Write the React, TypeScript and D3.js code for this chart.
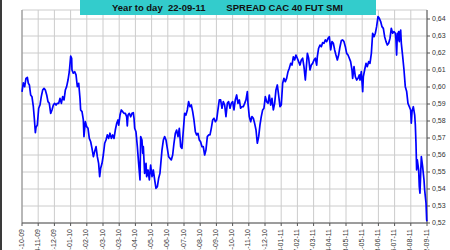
import React from 'react';
import * as d3 from 'd3';

const tickLabels = [
  '07-10-09', '04-11-09', '02-12-09', '05-01-10', '02-02-10', '02-03-10', '30-03-10',
  '29-04-10', '27-05-10', '24-06-10', '22-07-10', '19-08-10', '16-09-10', '14-10-10',
  '11-11-10', '09-12-10', '10-01-11', '07-02-11', '07-03-11', '04-04-11', '03-05-11',
  '31-05-11', '28-06-11', '26-07-11', '23-08-11', '22-09-11',
];
const tickStep = 20; // trading days between date labels
const yTicks = [0.52, 0.53, 0.54, 0.55, 0.56, 0.57, 0.58, 0.59, 0.6, 0.61, 0.62, 0.63, 0.64];
const titleLeft = 'Year to day  22-09-11';
const titleRight = 'SPREAD CAC 40 FUT SMI';

// [trading day, spread]
const series: [number, number][] = [
  [0, .5972], [1.6, .6025], [3.3, .6002], [4.9, .6051], [6.6, .6057], [7.8, .6022], [9.1, .6012],
  [10.7, .5953], [12.3, .5943], [14, .5884], [15.2, .5816], [16.5, .5731], [17.3, .5763], [18.9, .5776],
  [20.6, .5875], [22.2, .5894], [23.8, .5943], [25.5, .5982], [27.2, .5992], [28.8, .5982], [30.5, .5953],
  [32.1, .5914], [33.7, .5904], [35.4, .5845], [37, .5865], [38.7, .5894], [40.3, .5904], [42, .5894],
  [43.6, .5904], [45.3, .5904], [46.9, .5933], [48.6, .5904], [50.2, .5943], [51.9, .5924], [53.5, .5982],
  [55.1, .6002], [56.8, .6041], [58.4, .6090], [60.1, .6182], [61.3, .6169], [61.7, .6100], [63.3, .6081],
  [65, .6090], [66.7, .6071], [68.3, .6002], [70, .6022], [71.6, .5933], [72.4, .5865], [74.1, .5855],
  [75.7, .5806], [76.5, .5708], [78.2, .5796], [79.8, .5767], [81.5, .5757], [83.1, .5698], [84.8, .5678],
  [86.4, .5639], [88.1, .5590], [89.7, .5620], [91.4, .5649], [93, .5590], [94.6, .5551], [95.9, .5472],
  [97.1, .5522], [98.8, .5551], [100.4, .5600], [102.1, .5669], [103.7, .5688], [105.3, .5718], [107, .5698],
  [108.6, .5728], [110.3, .5698], [111.9, .5718], [113.6, .5698], [115.2, .5747], [116.9, .5786], [118.5, .5806],
  [119.4, .5776], [121, .5835], [122.6, .5865], [124.3, .5855], [125.9, .5845], [127.6, .5845], [129.2, .5825],
  [130, .5771], [130.9, .5835], [132.5, .5845], [134.2, .5825], [135.8, .5845], [137.4, .5849], [138.3, .5816],
  [139.1, .5757], [140.7, .5737], [142.4, .5649], [144, .5551], [145.7, .5453], [146.5, .5708], [148.1, .5688],
  [149, .5610], [149.8, .5649], [150.6, .5571], [151.4, .5492], [153.1, .5551], [153.9, .5472], [155.6, .5512],
  [157.2, .5453], [158.8, .5541], [160.5, .5473], [162.1, .5512], [163.8, .5453], [165.4, .5404], [167.1, .5414],
  [168.7, .5463], [170.3, .5492], [172.8, .5629], [174.5, .5688], [176.1, .5708], [177.8, .5688], [179.4, .5639],
  [181, .5590], [182.7, .5580], [184.3, .5571], [186, .5600], [187.6, .5669], [189.3, .5727], [190.9, .5747],
  [192.6, .5708], [194.2, .5757], [195.9, .5649], [197.5, .5639], [199.2, .5747], [200.8, .5845], [202.4, .5835],
  [204.1, .5865], [205.7, .5914], [207.4, .5884], [209, .5894], [210.7, .5855], [212.3, .5806], [214, .5737],
  [215.6, .5718], [217.3, .5727], [218.9, .5688], [220.5, .5678], [222.2, .5649], [223.8, .5649], [225.5, .5600],
  [227.1, .5629], [228.8, .5708], [230.4, .5718], [232.1, .5718], [233.7, .5757], [235.4, .5806], [237, .5816],
  [238.7, .5796], [240.3, .5806], [241.9, .5865], [243.6, .5924], [245.2, .5924], [246.9, .5875], [248.5, .5914],
  [250.2, .5894], [251.8, .5826], [253.5, .5904], [255.1, .5914], [256.8, .5875], [258.4, .5904], [260.1, .5914],
  [261.7, .5865], [263.3, .5924], [265, .5953], [266.6, .5904], [268.3, .5924], [269.9, .5875], [271.6, .5884],
  [273.2, .5884], [274.9, .5904], [276.5, .5924], [278.2, .5973], [279, .5904], [280.6, .5826], [282.3, .5796],
  [283.9, .5826], [285.6, .5816], [287.2, .5786], [288.9, .5747], [290.5, .5669], [292.2, .5708], [293.8, .5777],
  [295.4, .5826], [297.1, .5865], [298.7, .5875], [300.4, .5943], [302, .5914], [303.7, .5904], [305.3, .5953],
  [307, .5894], [308.6, .5933], [310.3, .5865], [311.9, .5904], [313.5, .5982], [315.2, .6012], [316.8, .5953],
  [318.5, .5884], [320.1, .5894], [321.8, .6022], [323.4, .6051], [325.1, .6031], [326.7, .6051], [328.4, .6090],
  [330, .6110], [331.7, .6139], [333.3, .6129], [335, .6178], [336.6, .6159], [338.2, .6188], [339.9, .6169],
  [341.5, .6149], [343.2, .6129], [344.8, .6159], [346.5, .6169], [348.1, .6120], [349.8, .6041], [350.6, .6090],
  [352.3, .6198], [353.9, .6169], [355.5, .6100], [357.2, .6129], [358.8, .6139], [360.5, .6159], [362.1, .6169],
  [363.8, .6129], [364.6, .6179], [366.2, .6228], [367.9, .6247], [369.5, .6237], [371.2, .6261], [372.8, .6257],
  [374.5, .6277], [376.1, .6267], [377.8, .6286], [379.4, .6296], [381.1, .6218], [382.7, .6267], [384.4, .6257],
  [386, .6218], [387.6, .6188], [389.3, .6159], [390.9, .6188], [392.6, .6237], [394.2, .6273], [395.9, .6277],
  [397.5, .6267], [399.2, .6237], [400.8, .6198], [402.5, .6188], [404.1, .6169], [405.7, .6149], [407.4, .6100],
  [408.2, .6051], [409.9, .6120], [411.5, .6061], [413.2, .6041], [414.8, .6051], [416.5, .6071], [417.3, .6041],
  [418.9, .6090], [420.6, .5973], [421.4, .6061], [423, .6100], [424.7, .6139], [426.3, .6120], [428, .6149],
  [429.6, .6139], [431.3, .6198], [432.9, .6316], [434.6, .6296], [436.2, .6316], [437.8, .6355], [439.5, .6414],
  [441.1, .6404], [442.8, .6385], [444.4, .6355], [446.1, .6345], [447.7, .6296], [449.4, .6267], [451, .6247],
  [452.7, .6257], [454.3, .6286], [455.9, .6345], [457.6, .6316], [459.2, .6326], [460.9, .6316], [461.7, .6277],
  [462.5, .6188], [463.4, .6316], [464.2, .6277], [465, .6326], [465.8, .6267], [466.7, .6316], [467.5, .6335],
  [468.3, .6257], [470, .6179], [471.6, .6100], [473.2, .6002], [474.9, .5973], [476.5, .5904], [478.2, .5884],
  [479.8, .5865], [480.6, .5787], [481.5, .5855], [483.1, .5884], [484.8, .5835], [485.6, .5777], [486.4, .5669],
  [487.2, .5512], [488, .5571], [489.7, .5512], [490.5, .5414], [491.3, .5375], [492.2, .5492], [493, .5590],
  [494.6, .5532], [496.3, .5453], [497.1, .5394], [498.8, .5316], [499.6, .5218], [500, .5210],
];

const W = 450;
const H = 250;
const plot = { left: 22, right: 427, top: 10, bottom: 223 };

export default function App() {
  const x = d3.scaleLinear().domain([0, (tickLabels.length - 1) * tickStep]).range([plot.left, plot.right]);
  const y = d3.scaleLinear().domain([0.52, 0.64]).range([plot.bottom, 19]);
  const line = d3.line<[number, number]>().x(d => x(d[0])).y(d => y(d[1]));
  const fmt = (v: number) => d3.format('.2f')(v).replace('.', ',');
  const font = "'Liberation Sans', Arial, sans-serif";
  const grid = '#cccccc';

  return (
    <svg width={W} height={H} style={{ position: 'fixed', left: 0, top: 0, background: '#fff' }}
      fontFamily={font}>
      <rect x={0} y={0} width={W} height={H} fill="#fff" />
      <rect x={0} y={0} width={2} height={H} fill="#3a3a3a" />
      {/* grid */}
      {yTicks.map(t => (
        <line key={'h' + t} x1={plot.left} x2={plot.right} y1={y(t)} y2={y(t)} stroke={grid} strokeWidth={1} />
      ))}
      <line x1={plot.left} x2={plot.right} y1={plot.top} y2={plot.top} stroke={grid} strokeWidth={1} />
      {tickLabels.map((_, i) => (
        <line key={'v' + i} x1={x(i * tickStep)} x2={x(i * tickStep)} y1={plot.top} y2={plot.bottom}
          stroke={grid} strokeWidth={1} />
      ))}
      {/* axes */}
      <line x1={plot.left} x2={plot.left} y1={plot.top} y2={plot.bottom} stroke="#8a8a8a" strokeWidth={1} />
      <line x1={plot.left} x2={plot.right} y1={plot.bottom} y2={plot.bottom} stroke="#555" strokeWidth={1} />
      <line x1={plot.right} x2={plot.right} y1={plot.top} y2={plot.bottom} stroke="#555" strokeWidth={1} />
      {yTicks.map(t => (
        <g key={'yt' + t}>
          <line x1={plot.right} x2={plot.right + 3} y1={y(t)} y2={y(t)} stroke="#555" />
          <text x={plot.right + 5} y={y(t)} dy="0.35em" fontSize={7} fill="#333">{fmt(t)}</text>
        </g>
      ))}
      {tickLabels.map((lab, i) => {
        const px = x(i * tickStep);
        return (
          <g key={'xt' + i}>
            <line x1={px} x2={px} y1={plot.bottom} y2={plot.bottom + 3} stroke="#555" />
            <text transform={`translate(${px - 0.5},${plot.bottom + 6}) rotate(-90)`} textAnchor="end" dy="0.3em"
              fontSize={7} fill="#333">{lab}</text>
          </g>
        );
      })}
      {/* series */}
      <path d={line(series) || ''} fill="none" stroke="#0000ff" strokeWidth={1.7} strokeLinejoin="round" />
      {/* title */}
      <rect x={80} y={0} width={296} height={15} fill="#33cccc" />
      <text x={112} y={10.5} fontSize={9.5} fontWeight="bold" fill="#111" style={{ whiteSpace: 'pre' }}>{titleLeft}</text>
      <text x={343} y={10.5} fontSize={9.5} fontWeight="bold" fill="#111" textAnchor="end">{titleRight}</text>
    </svg>
  );
}
